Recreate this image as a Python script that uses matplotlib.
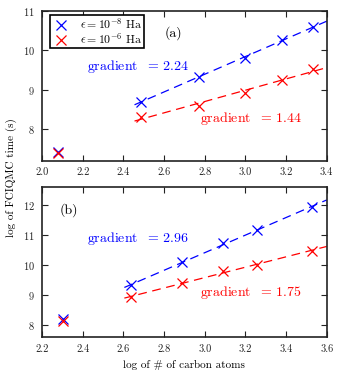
import matplotlib
matplotlib.use('Agg')
import matplotlib.pyplot as plt
import numpy as np

plt.rcParams['font.family'] = ['cmr10', 'DejaVu Serif']
plt.rcParams['mathtext.fontset'] = 'cm'
plt.rcParams['axes.formatter.use_mathtext'] = True
plt.rcParams['axes.unicode_minus'] = False

# (a) log of carbon atoms / log of time
xa = [2.08, 2.485, 2.773, 2.996, 3.178, 3.332]
ya_8 = [7.43, 8.70, 9.32, 9.82, 10.26, 10.59]
ya_6 = [7.40, 8.32, 8.59, 8.93, 9.25, 9.52]
grad_a = [2.24, 1.44]

# (b)
xb = [2.303, 2.639, 2.890, 3.091, 3.258, 3.526]
yb_8 = [8.21, 9.33, 10.09, 10.74, 11.18, 11.93]
yb_6 = [8.13, 8.94, 9.39, 9.80, 10.02, 10.48]
grad_b = [2.96, 1.75]

labels = [r'$\epsilon = 10^{-8}$ Ha', r'$\epsilon = 10^{-6}$ Ha']

fig = plt.figure(figsize=(3.4, 3.8), dpi=100)
ax1 = fig.add_axes([0.1235, 0.577, 0.8375, 0.394])
ax2 = fig.add_axes([0.1235, 0.113, 0.8375, 0.394])

dash = (0, (7, 4.5))


def panel(ax, x, y8, y6, grads, xfit, xlim, ylim, yticks, xticks, tag, tagpos, tpos):
    for y, c, lab, g, tp in zip([y8, y6], ['b', 'r'], labels, grads, tpos):
        ax.plot(x, y, 'x', color=c, ms=7.5, mew=0.9, label=lab)
        # linear fit on all but the smallest system
        p = np.polyfit(x[1:], y[1:], 1)
        xx = np.array(xfit)
        ax.plot(xx, np.polyval(p, xx), color=c, lw=0.9, linestyle=dash)
        ax.text(tp[0], tp[1], r'gradient $\;=\,%.2f$' % g, color=c, fontsize=10,
                va='center', ha='left')
    ax.set_xlim(xlim)
    ax.set_ylim(ylim)
    ax.set_xticks(xticks)
    ax.set_yticks(yticks)
    ax.set_xticklabels(['%.1f' % t for t in xticks])
    ax.tick_params(direction='in', top=True, right=True, length=4.5, width=0.8,
                   labelsize=7.5, pad=5, colors='#222222')
    for s in ax.spines.values():
        s.set_linewidth(1.2)
        s.set_color('#222222')
    ax.text(tagpos[0], tagpos[1], tag, fontsize=10, ha='center', va='center')


panel(ax1, xa, ya_8, ya_6, grad_a, [2.455, 3.4], (2.0, 3.4), (7.2, 11),
      [8, 9, 10, 11], [2.0, 2.2, 2.4, 2.6, 2.8, 3.0, 3.2, 3.4],
      '(a)', (2.645, 10.43), [(2.22, 9.59), (2.775, 8.26)])
panel(ax2, xb, yb_8, yb_6, grad_b, [2.605, 3.6], (2.2, 3.6), (7.6, 12.6),
      [8, 9, 10, 11, 12], [2.2, 2.4, 2.6, 2.8, 3.0, 3.2, 3.4, 3.6],
      '(b)', (2.33, 11.84), [(2.42, 10.88), (2.975, 9.10)])

leg = ax1.legend(loc='upper left', bbox_to_anchor=(0.028, 0.975), borderaxespad=0,
                 numpoints=1, fontsize=8.5, fancybox=False,
                 handletextpad=0.8, borderpad=0.15,
                 labelspacing=0.0, handlelength=1.6)
leg.get_frame().set_edgecolor('black')
leg.get_frame().set_linewidth(1.2)
leg.get_frame().set_alpha(1)

fig.text(0.034, 0.534, 'log of FCIQMC time (s)', rotation=90, ha='center',
         va='center', fontsize=8)
ax2.set_xlabel('log of # of carbon atoms', fontsize=8, labelpad=5)

fig.savefig('out.png', dpi=100)
